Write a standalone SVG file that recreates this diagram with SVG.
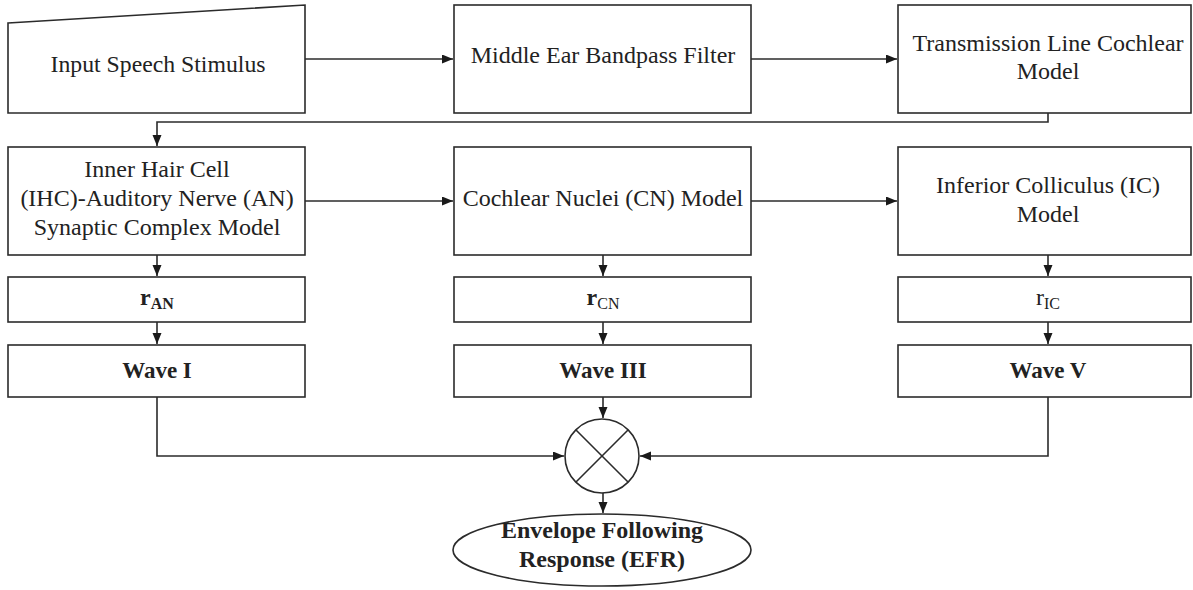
<svg xmlns="http://www.w3.org/2000/svg" width="1193" height="590" viewBox="0 0 1193 590">
  <style>
    .box { fill: #ffffff; stroke: #2b2b2b; stroke-width: 1.6; }
    .edge { fill: none; stroke: #2b2b2b; stroke-width: 1.6; }
    .t { font-family: "Liberation Serif", "Times New Roman", serif; font-size: 24px; fill: #222222; text-anchor: middle; }
    .b { font-weight: bold; }
    .sub { font-size: 16px; }
  </style>
  <defs>
    <marker id="arrow" markerUnits="userSpaceOnUse" markerWidth="12" markerHeight="10" refX="11" refY="4.5" orient="auto">
      <path d="M0,0 L11,4.5 L0,9 z" fill="#1a1a1a"/>
    </marker>
  </defs>

  <rect width="1193" height="590" fill="#ffffff"/>

  <!-- connectors -->
  <g id="connectors">
    <line class="edge" x1="305" y1="59" x2="453" y2="59" marker-end="url(#arrow)"/>
    <line class="edge" x1="751" y1="59" x2="897" y2="59" marker-end="url(#arrow)"/>
    <polyline class="edge" points="1048,113 1048,122 157,122 157,146" marker-end="url(#arrow)"/>
    <line class="edge" x1="305" y1="201" x2="453" y2="201" marker-end="url(#arrow)"/>
    <line class="edge" x1="751" y1="201" x2="897" y2="201" marker-end="url(#arrow)"/>

    <line class="edge" x1="157" y1="255" x2="157" y2="276" marker-end="url(#arrow)"/>
    <line class="edge" x1="157" y1="322" x2="157" y2="344" marker-end="url(#arrow)"/>
    <line class="edge" x1="603" y1="255" x2="603" y2="276" marker-end="url(#arrow)"/>
    <line class="edge" x1="603" y1="322" x2="603" y2="344" marker-end="url(#arrow)"/>
    <line class="edge" x1="1048" y1="255" x2="1048" y2="276" marker-end="url(#arrow)"/>
    <line class="edge" x1="1048" y1="322" x2="1048" y2="344" marker-end="url(#arrow)"/>

    <polyline class="edge" points="157,397 157,456 564,456" marker-end="url(#arrow)"/>
    <polyline class="edge" points="1048,397 1048,456 640,456" marker-end="url(#arrow)"/>
    <line class="edge" x1="603" y1="397" x2="603" y2="418" marker-end="url(#arrow)"/>
    <line class="edge" x1="603" y1="493" x2="603" y2="513" marker-end="url(#arrow)"/>
  </g>

  <!-- first row -->
  <g id="input">
    <polygon class="box" points="8,23 305,5 305,113 8,113"/>
    <text class="t" x="158" y="72" textLength="215" lengthAdjust="spacingAndGlyphs">Input Speech Stimulus</text>
  </g>
  <g id="middle-ear">
    <rect class="box" x="454" y="5" width="297" height="108"/>
    <text class="t" x="603" y="63">Middle Ear Bandpass Filter</text>
  </g>
  <g id="cochlea">
    <rect class="box" x="898" y="5" width="293" height="108"/>
    <text class="t" x="1048" y="51">Transmission Line Cochlear</text>
    <text class="t" x="1048" y="79">Model</text>
  </g>

  <!-- second row -->
  <g id="ihc-an">
    <rect class="box" x="8" y="147" width="297" height="108"/>
    <text class="t" x="157" y="177">Inner Hair Cell</text>
    <text class="t" x="157" y="206">(IHC)-Auditory Nerve (AN)</text>
    <text class="t" x="157" y="235">Synaptic Complex Model</text>
  </g>
  <g id="cn">
    <rect class="box" x="454" y="147" width="297" height="108"/>
    <text class="t" x="603" y="206">Cochlear Nuclei (CN) Model</text>
  </g>
  <g id="ic">
    <rect class="box" x="898" y="147" width="293" height="108"/>
    <text class="t" x="1048" y="193">Inferior Colliculus (IC)</text>
    <text class="t" x="1048" y="222">Model</text>
  </g>

  <!-- rate responses -->
  <g id="r-an">
    <rect class="box" x="8" y="277" width="297" height="45"/>
    <text class="t b" x="157" y="305">r<tspan class="sub" dy="4">AN</tspan></text>
  </g>
  <g id="r-cn">
    <rect class="box" x="454" y="277" width="297" height="45"/>
    <text class="t" x="603" y="305"><tspan class="b">r</tspan><tspan class="sub" dy="4">CN</tspan></text>
  </g>
  <g id="r-ic">
    <rect class="box" x="898" y="277" width="293" height="45"/>
    <text class="t" x="1048" y="305">r<tspan class="sub" dy="4">IC</tspan></text>
  </g>

  <!-- waves -->
  <g id="wave-1">
    <rect class="box" x="8" y="345" width="297" height="52"/>
    <text class="t b" x="157" y="378" style="font-size:23px">Wave I</text>
  </g>
  <g id="wave-3">
    <rect class="box" x="454" y="345" width="297" height="52"/>
    <text class="t b" x="603" y="378" style="font-size:23px">Wave III</text>
  </g>
  <g id="wave-5">
    <rect class="box" x="898" y="345" width="293" height="52"/>
    <text class="t b" x="1048" y="378" style="font-size:23px">Wave V</text>
  </g>

  <!-- multiplier -->
  <g id="product">
    <circle cx="602" cy="456" r="37" fill="#ffffff" stroke="#2b2b2b" stroke-width="1.6"/>
    <line class="edge" x1="576" y1="430" x2="628" y2="482"/>
    <line class="edge" x1="628" y1="430" x2="576" y2="482"/>
  </g>

  <!-- output -->
  <g id="efr">
    <ellipse class="box" cx="602" cy="550" rx="149" ry="36"/>
    <text class="t b" x="602" y="538">Envelope Following</text>
    <text class="t b" x="602" y="567">Response (EFR)</text>
  </g>
</svg>
